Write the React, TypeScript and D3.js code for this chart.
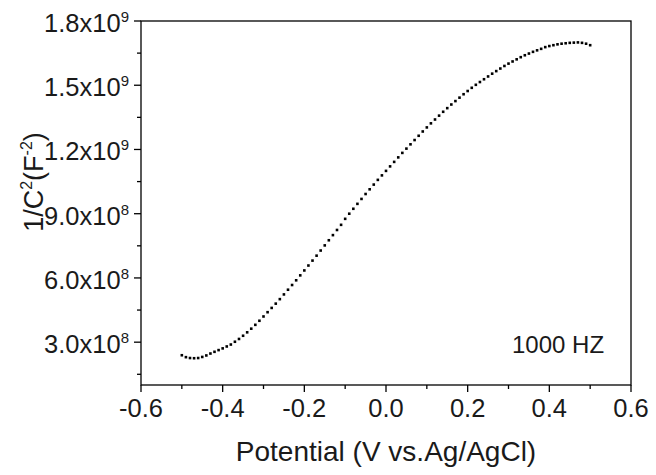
import React from "react";
import * as d3 from "d3";

// Potential (V vs. Ag/AgCl), 0.01 V steps from -0.50 to 0.50
const potentials: number[] = d3.range(0, 101).map((i) => Math.round((-0.5 + i * 0.01) * 100) / 100);

// 1/C^2 values in units of 1e8 F^-2
const invC2: number[] = [
  2.39, 2.30, 2.26, 2.25, 2.26, 2.31, 2.38, 2.47, 2.55, 2.63,
  2.71, 2.80, 2.89, 3.02, 3.15, 3.30, 3.46, 3.63, 3.81, 4.00,
  4.20, 4.40, 4.60, 4.80, 5.01, 5.23, 5.45, 5.67, 5.89, 6.12,
  6.35, 6.58, 6.81, 7.04, 7.28, 7.52, 7.76, 8.00, 8.24, 8.48,
  8.76, 9.00, 9.23, 9.46, 9.69, 9.92, 10.14, 10.36, 10.58, 10.79,
  11.00, 11.21, 11.42, 11.63, 11.84, 12.04, 12.24, 12.44, 12.64, 12.84,
  13.03, 13.22, 13.40, 13.58, 13.76, 13.93, 14.10, 14.26, 14.42, 14.58,
  14.73, 14.88, 15.02, 15.15, 15.28, 15.41, 15.54, 15.66, 15.78, 15.90,
  16.01, 16.11, 16.21, 16.31, 16.40, 16.48, 16.56, 16.63, 16.70, 16.78,
  16.83, 16.87, 16.91, 16.94, 16.96, 16.98, 16.99, 17.00, 16.98, 16.94,
  16.87,
];

const xTicks: number[] = [-0.6, -0.4, -0.2, 0.0, 0.2, 0.4, 0.6];
const xMinorTicks: number[] = [-0.5, -0.3, -0.1, 0.1, 0.3, 0.5];
const yTicks: number[] = [3e8, 6e8, 9e8, 1.2e9, 1.5e9, 1.8e9];
const yTickMantissa: string[] = ["3.0", "6.0", "9.0", "1.2", "1.5", "1.8"];
const yTickExp: string[] = ["8", "8", "8", "9", "9", "9"];
const yMinorTicks: number[] = [1.5e8, 4.5e8, 7.5e8, 1.05e9, 1.35e9, 1.65e9];

const FONT = "'Liberation Sans', Arial, Helvetica, sans-serif";

export default function App() {
  const W = 656, H = 475;
  const left = 141, right = 631, top = 21, bottom = 385;
  const x = d3.scaleLinear().domain([-0.6, 0.6]).range([left, right]);
  const y = d3.scaleLinear().domain([1e8, 1.8e9]).range([bottom, top]);

  const fmtX = (v: number) => (Math.abs(v) < 1e-9 ? "0.0" : d3.format(".1f")(v).replace("−", "-"));

  return (
    <svg
      width={W}
      height={H}
      style={{ position: "absolute", left: 0, top: 0, background: "#fff" }}
      fontFamily={FONT}
    >
      <rect x={0} y={0} width={W} height={H} fill="#fff" />
      {/* frame */}
      <rect x={left} y={top} width={right - left} height={bottom - top} fill="none" stroke="#000" strokeWidth={1.3} />

      {/* x ticks */}
      {xTicks.map((t) => (
        <g key={"xt" + t}>
          <line x1={x(t)} x2={x(t)} y1={bottom} y2={bottom + 7} stroke="#000" strokeWidth={1.3} />
          <text x={x(t)} y={417} textAnchor="middle" fontSize={25.5} fill="#1a1a1a">
            {fmtX(t)}
          </text>
        </g>
      ))}
      {xMinorTicks.map((t) => (
        <line key={"xm" + t} x1={x(t)} x2={x(t)} y1={bottom} y2={bottom + 4} stroke="#000" strokeWidth={1.3} />
      ))}

      {/* y ticks */}
      {yTicks.map((t, i) => (
        <g key={"yt" + t}>
          <line x1={left - 7} x2={left} y1={y(t)} y2={y(t)} stroke="#000" strokeWidth={1.3} />
          <text x={129} y={y(t) + 11} textAnchor="end" fontSize={25.5} fill="#1a1a1a">
            {yTickMantissa[i]}x10
            <tspan fontSize={15} dy={-10}>{yTickExp[i]}</tspan>
          </text>
        </g>
      ))}
      {yMinorTicks.map((t) => (
        <line key={"ym" + t} x1={left - 4} x2={left} y1={y(t)} y2={y(t)} stroke="#000" strokeWidth={1.3} />
      ))}

      {/* data points */}
      {potentials.map((v, i) => (
        <rect
          key={"p" + i}
          x={x(v) - 1.3}
          y={y(invC2[i] * 1e8) - 1.3}
          width={2.6}
          height={2.6}
          fill="#000"
        />
      ))}

      {/* annotation */}
      <text x={512} y={353} fontSize={24} fill="#1a1a1a">1000 HZ</text>

      {/* axis titles */}
      <text x={(left + right) / 2} y={461} textAnchor="middle" fontSize={28} fill="#1a1a1a">
        Potential (V vs.Ag/AgCl)
      </text>
      <text transform="translate(43,182) rotate(-90)" textAnchor="middle" fontSize={27} fill="#1a1a1a">
        1/C<tspan fontSize={16} dy={-11}>2</tspan>
        <tspan dy={11}>(F</tspan>
        <tspan fontSize={16} dy={-11}>-2</tspan>
        <tspan dy={11}>)</tspan>
      </text>
    </svg>
  );
}
